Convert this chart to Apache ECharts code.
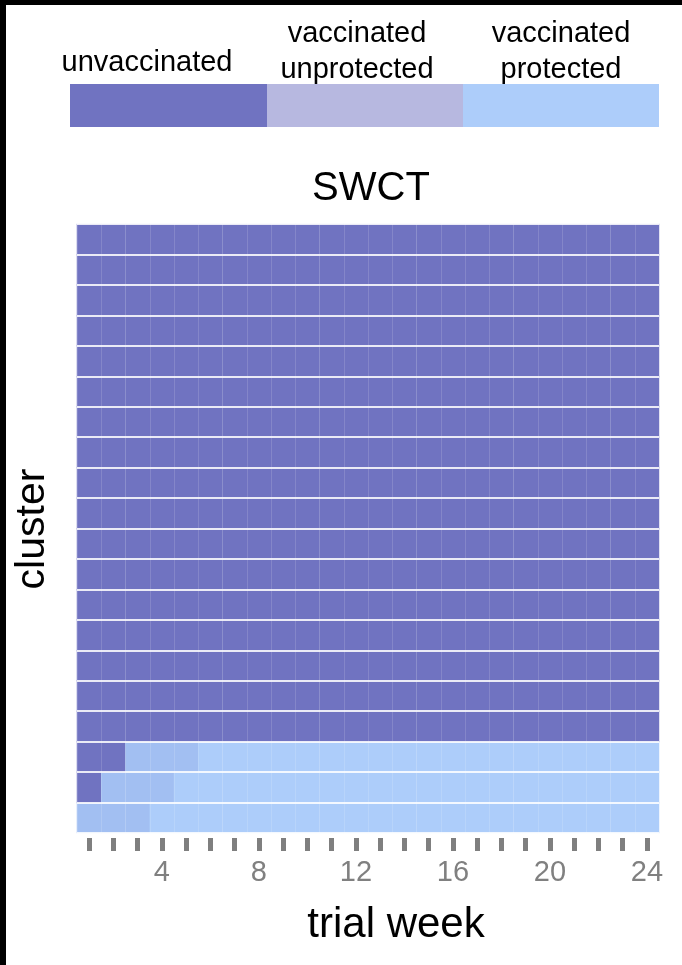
<!DOCTYPE html>
<html>
<head>
<meta charset="utf-8">
<script src="https://cdn.jsdelivr.net/npm/echarts@6/dist/echarts.min.js"></script>
<style>
html,body{margin:0;padding:0;background:#fff;}
#c{width:682px;height:965px;}
</style>
</head>
<body>
<div id="c"></div>
<script>
// ---- data ----
var weeks = ['1','2','3','4','5','6','7','8','9','10','11','12','13','14','15','16','17','18','19','20','21','22','23','24'];
var clusters = ['1','2','3','4','5','6','7','8','9','10','11','12','13','14','15','16','17','18','19','20'];
// first week a cluster is vaccinated (unprotected) and first week it is protected; 0 = never in trial window
var vaccinatedFrom = [1, 2, 3, 0, 0, 0, 0, 0, 0, 0, 0, 0, 0, 0, 0, 0, 0, 0, 0, 0];
var protectedFrom  = [4, 5, 6, 0, 0, 0, 0, 0, 0, 0, 0, 0, 0, 0, 0, 0, 0, 0, 0, 0];
var stateNames = ['unvaccinated', 'vaccinated\nunprotected', 'vaccinated\nprotected'];
var tickLabels = ['4', '8', '12', '16', '20', '24'];

var cellColors = ['#7073c1', '#a2bff2', '#adcdfa'];
var legendColors = ['#7073c1', '#b7b8e0', '#adcdfa'];

var cells = [];
clusters.forEach(function (c, ci) {
  weeks.forEach(function (w, wi) {
    var wk = wi + 1, s = 0;
    if (protectedFrom[ci] && wk >= protectedFrom[ci]) s = 2;
    else if (vaccinatedFrom[ci] && wk >= vaccinatedFrom[ci]) s = 1;
    cells.push([wi, ci, s]);
  });
});

var FONT = '"Liberation Sans", Arial, Helvetica, sans-serif';
var chart = echarts.init(document.getElementById('c'), null, {renderer: 'canvas'});

var legendX = [70, 267, 463, 659];
var legendTextX = [147, 357, 561];
var legendTextY = [63, 52, 52];
var graphics = [
  {type: 'rect', shape: {x: 0, y: 0, width: 6, height: 965}, style: {fill: '#000'}, z: 100},
  {type: 'rect', shape: {x: 0, y: 0, width: 682, height: 5}, style: {fill: '#000'}, z: 100},
  {type: 'text', x: 371, y: 189, style: {text: 'SWCT', font: '40px ' + FONT, fill: '#000', textAlign: 'center', textVerticalAlign: 'middle'}},
  {type: 'text', x: 396, y: 925, style: {text: 'trial week', font: '42px ' + FONT, fill: '#000', textAlign: 'center', textVerticalAlign: 'middle'}},
  {type: 'text', x: 33, y: 529, rotation: Math.PI / 2, style: {text: 'cluster', font: '41px ' + FONT, fill: '#000', textAlign: 'center', textVerticalAlign: 'middle'}}
];
for (var i = 0; i < 3; i++) {
  graphics.push({type: 'rect', shape: {x: legendX[i], y: 84, width: legendX[i + 1] - legendX[i], height: 43}, style: {fill: legendColors[i]}});
  graphics.push({type: 'text', x: legendTextX[i], y: legendTextY[i], style: {text: stateNames[i], font: '29px ' + FONT, fill: '#000', textAlign: 'center', textVerticalAlign: 'middle', lineHeight: 36}});
}

chart.setOption({
  animation: false,
  backgroundColor: '#fff',
  grid: {left: 77, right: 23, top: 224, bottom: 132},
  xAxis: {
    type: 'category', data: weeks, offset: 5, z: 5,
    axisLine: {show: false},
    axisTick: {show: true, alignWithLabel: true, interval: 0, length: 13, lineStyle: {width: 5, color: '#7f7f7f'}},
    axisLabel: {
      interval: 0, margin: 20, color: '#808080', fontSize: 29, fontFamily: FONT,
      formatter: function (v) { return tickLabels.indexOf(v) >= 0 ? v : ''; }
    },
    splitLine: {show: true, interval: 0, lineStyle: {color: 'rgba(255,255,255,0.14)', width: 1}}
  },
  yAxis: {
    type: 'category', data: clusters, z: 5,
    axisLine: {show: false}, axisTick: {show: false}, axisLabel: {show: false},
    splitLine: {show: true, interval: 0, lineStyle: {color: 'rgba(255,255,255,0.85)', width: 2}}
  },
  visualMap: {
    type: 'piecewise', show: false, dimension: 2,
    pieces: [{value: 0, color: cellColors[0]}, {value: 1, color: cellColors[1]}, {value: 2, color: cellColors[2]}]
  },
  series: [{
    type: 'heatmap', data: cells, itemStyle: {borderWidth: 0}, emphasis: {disabled: true}
  }],
  graphic: graphics
});
</script>
</body>
</html>
